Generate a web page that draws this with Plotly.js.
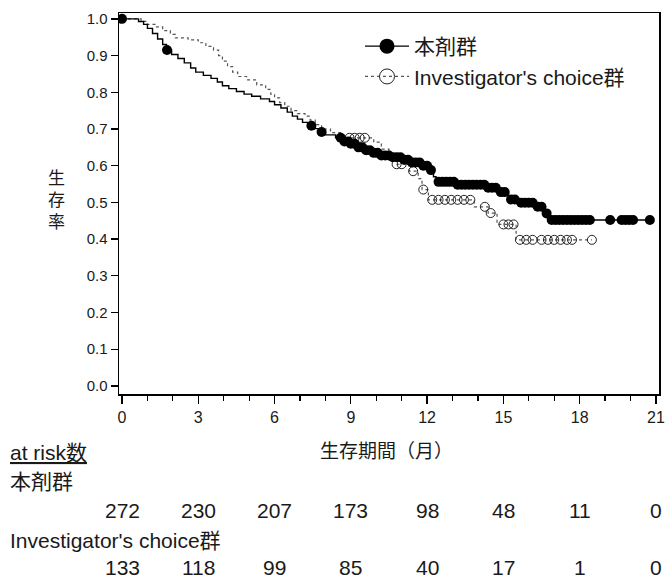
<!DOCTYPE html>
<html>
<head>
<meta charset="utf-8">
<script src="https://cdn.plot.ly/plotly-3.0.1.min.js"></script>
<style>
  html, body { margin: 0; padding: 0; background: #fff; }
  #km { width: 665px; height: 579px; }
</style>
</head>
<body>
<div id="km"></div>
<script>
// Kaplan-Meier survival estimates (months vs. survival proportion)
const nameA = '本剤群';
const nameB = "Investigator's choice群";

// 本剤群: step times and survival after each step
const timeA = [0, 0.65, 0.85, 1.0, 1.2, 1.4, 1.6, 1.75, 1.95, 2.2, 2.45, 2.7, 2.9, 3.2, 3.5, 3.75, 3.95,
  4.2, 4.5, 4.8, 5.1, 5.45, 5.8, 6.0, 6.25, 6.5, 6.7, 6.9, 7.1, 7.3, 7.5, 7.75, 8.0, 8.4, 8.7, 9.0,
  9.3, 9.6, 9.9, 10.2, 10.6, 11.0, 11.4, 11.8, 12.1, 12.25, 12.35, 13.2, 14.3, 14.8, 15.2, 15.6,
  16.2, 16.6, 16.8];
const survA = [1.0, 0.993, 0.985, 0.974, 0.96, 0.945, 0.93, 0.915, 0.903, 0.892, 0.88, 0.866, 0.855,
  0.846, 0.838, 0.828, 0.818, 0.81, 0.802, 0.795, 0.789, 0.782, 0.775, 0.766, 0.757, 0.746, 0.735,
  0.727, 0.718, 0.709, 0.701, 0.692, 0.684, 0.676, 0.666, 0.66, 0.65, 0.642, 0.635, 0.628, 0.623,
  0.616, 0.609, 0.6, 0.588, 0.57, 0.556, 0.548, 0.54, 0.528, 0.508, 0.499, 0.488, 0.47, 0.452];
// 本剤群: censoring times
const censorA = [0, 1.77, 7.45, 7.85, 8.6, 8.75, 8.9, 9.0, 9.15, 9.3, 9.45, 9.6, 9.75, 9.9, 10.05,
  10.2, 10.35, 10.5, 10.65, 10.8, 10.95, 11.1, 11.25, 11.4, 11.55, 11.7, 11.85, 12.0, 12.15, 12.45,
  12.6, 12.75, 12.9, 13.05, 13.2, 13.35, 13.5, 13.65, 13.8, 13.95, 14.1, 14.25, 14.4, 14.55, 14.7,
  14.9, 15.05, 15.3, 15.45, 15.7, 15.85, 16.0, 16.15, 16.35, 16.5, 16.7, 16.9, 17.05, 17.2, 17.35,
  17.5, 17.65, 17.8, 17.95, 18.1, 18.25, 18.4, 19.2, 19.65, 19.8, 19.95, 20.1, 20.76];

// Investigator's choice群: step times and survival after each step
const timeB = [0, 0.75, 1.0, 1.3, 1.6, 1.9, 2.1, 2.6, 3.0, 3.3, 3.6, 3.8, 3.95, 4.15, 4.35, 4.55, 4.9,
  5.3, 5.65, 5.85, 6.0, 6.2, 6.4, 6.65, 6.9, 7.2, 7.4, 7.6, 7.85, 8.2, 8.6, 9.9, 10.2, 10.5, 10.8,
  11.3, 11.65, 11.8, 12.05, 13.85, 14.4, 14.75, 15.5];
const survB = [1.0, 0.993, 0.985, 0.978, 0.968, 0.958, 0.948, 0.943, 0.935, 0.925, 0.915, 0.9, 0.885,
  0.87, 0.855, 0.843, 0.834, 0.82, 0.808, 0.795, 0.785, 0.772, 0.762, 0.75, 0.742, 0.735, 0.724,
  0.712, 0.7, 0.69, 0.676, 0.664, 0.645, 0.625, 0.604, 0.585, 0.565, 0.535, 0.507, 0.488, 0.471,
  0.44, 0.398];
// Investigator's choice群: censoring times
const censorB = [8.95, 9.15, 9.35, 9.55, 10.8, 11.0, 11.45, 11.85, 12.2, 12.45, 12.7, 12.95, 13.2,
  13.45, 13.7, 14.27, 14.5, 15.0, 15.2, 15.4, 15.65, 15.9, 16.15, 16.5, 16.75, 17.0, 17.25, 17.5,
  17.7, 18.48];

// Number at risk table
const riskTimes = [0, 3, 6, 9, 12, 15, 18, 21];
const riskA = [272, 230, 207, 173, 98, 48, 11, 0];
const riskB = [133, 118, 99, 85, 40, 17, 1, 0];

const xTicks = [0, 3, 6, 9, 12, 15, 18, 21];
const yTicks = [0, 0.1, 0.2, 0.3, 0.4, 0.5, 0.6, 0.7, 0.8, 0.9, 1.0];

// survival value of a step curve at time t
function survAt(times, surv, t) {
  let v = surv[0];
  for (let i = 0; i < times.length; i++) { if (times[i] <= t) v = surv[i]; }
  return v;
}
// the step curve continues to the last censored observation
function stepX(times, censors) { return times.concat([Math.max(...censors)]); }
function stepY(surv) { return surv.concat([surv[surv.length - 1]]); }

const FONT = 'Liberation Sans, Arial, "Noto Sans CJK JP", sans-serif';
const INK = '#1a1a1a';
const TXT = 21;

// plot frame in pixels, used to place table text
const L = 119, R = 659, T = 13, B = 394;
const px = x => (x - L) / (R - L);
const py = y => (B - y) / (B - T);

const traces = [
  { x: stepX(timeB, censorB), y: stepY(survB), mode: 'lines', line: { shape: 'hv', color: '#555', width: 1.2, dash: 'dot' },
    showlegend: false, hoverinfo: 'skip' },
  { x: censorB, y: censorB.map(t => survAt(timeB, survB, t)), mode: 'markers',
    marker: { symbol: 'circle-open', size: 9, color: '#222', line: { width: 1 } }, showlegend: false },
  { x: stepX(timeA, censorA), y: stepY(survA), mode: 'lines', line: { shape: 'hv', color: '#000', width: 1.4 },
    showlegend: false, hoverinfo: 'skip' },
  { x: censorA, y: censorA.map(t => survAt(timeA, survA, t)), mode: 'markers',
    marker: { symbol: 'circle', size: 10, color: '#000' }, showlegend: false },
  // legend entries
  { x: [null], y: [null], name: nameA, mode: 'lines+markers', legendgroup: 'a',
    line: { color: '#000', width: 1.4 }, marker: { symbol: 'circle', size: 15, color: '#000' } },
  { x: [null], y: [null], name: nameB, mode: 'lines+markers', legendgroup: 'b',
    line: { color: '#555', width: 1.2, dash: 'dot' }, marker: { symbol: 'circle-open', size: 15, color: '#222', line: { width: 1 } } }
];

const annotations = [
  { text: '生<br>存<br>率', x: px(56), y: py(200), xref: 'paper', yref: 'paper', showarrow: false,
    font: { family: FONT, size: 17, color: INK }, xanchor: 'center', yanchor: 'middle' },
  { text: '生存期間（月）', x: px(386), y: py(451), xref: 'paper', yref: 'paper', showarrow: false,
    font: { family: FONT, size: 19, color: INK }, xanchor: 'center', yanchor: 'middle' },
  { text: '<span style="text-decoration:underline">at risk数</span>', x: px(8), y: py(452), xref: 'paper', yref: 'paper',
    showarrow: false, font: { family: FONT, size: TXT, color: INK }, xanchor: 'left', yanchor: 'middle' },
  { text: nameA, x: px(8), y: py(481), xref: 'paper', yref: 'paper', showarrow: false,
    font: { family: FONT, size: TXT, color: INK }, xanchor: 'left', yanchor: 'middle' },
  { text: nameB, x: px(8), y: py(540), xref: 'paper', yref: 'paper', showarrow: false,
    font: { family: FONT, size: TXT, color: INK }, xanchor: 'left', yanchor: 'middle' }
];
riskTimes.forEach((t, i) => {
  annotations.push({ text: String(riskA[i]), x: t, y: py(511), xref: 'x', yref: 'paper', showarrow: false,
    font: { family: FONT, size: TXT, color: INK }, xanchor: 'center', yanchor: 'middle' });
  annotations.push({ text: String(riskB[i]), x: t, y: py(567), xref: 'x', yref: 'paper', showarrow: false,
    font: { family: FONT, size: TXT, color: INK }, xanchor: 'center', yanchor: 'middle' });
});

const layout = {
  width: 665, height: 579,
  margin: { l: L, r: 665 - R, t: T, b: 579 - B, pad: 0 },
  paper_bgcolor: '#fff', plot_bgcolor: '#fff',
  font: { family: FONT, color: INK },
  showlegend: true,
  legend: { x: px(360), y: py(26), xanchor: 'left', yanchor: 'top', bgcolor: 'rgba(0,0,0,0)',
    font: { family: FONT, size: TXT, color: INK }, traceorder: 'grouped', tracegroupgap: 0, itemwidth: 44 },
  xaxis: {
    range: [-0.118, 21.12], tickvals: xTicks, ticktext: xTicks.map(String),
    ticks: 'outside', ticklen: 8, tickwidth: 1.3, tickcolor: '#000',
    minor: { dtick: 1, tick0: 0, ticks: 'outside', ticklen: 5, tickwidth: 1.2, tickcolor: '#000', showgrid: false },
    showline: true, linecolor: '#000', linewidth: 1.5, mirror: true,
    showgrid: false, zeroline: false, tickfont: { family: FONT, size: 16, color: INK }, fixedrange: true
  },
  yaxis: {
    range: [-0.022, 1.016], tickvals: yTicks, ticktext: yTicks.map(v => v.toFixed(1)),
    ticks: 'outside', ticklen: 7, tickwidth: 1.3, tickcolor: '#000',
    showline: true, linecolor: '#000', linewidth: 1.5, mirror: true,
    showgrid: false, zeroline: false, tickfont: { family: FONT, size: 15, color: INK }, fixedrange: true
  },
  annotations: annotations
};

Plotly.newPlot('km', traces, layout, { displayModeBar: false, staticPlot: true });
</script>
</body>
</html>
